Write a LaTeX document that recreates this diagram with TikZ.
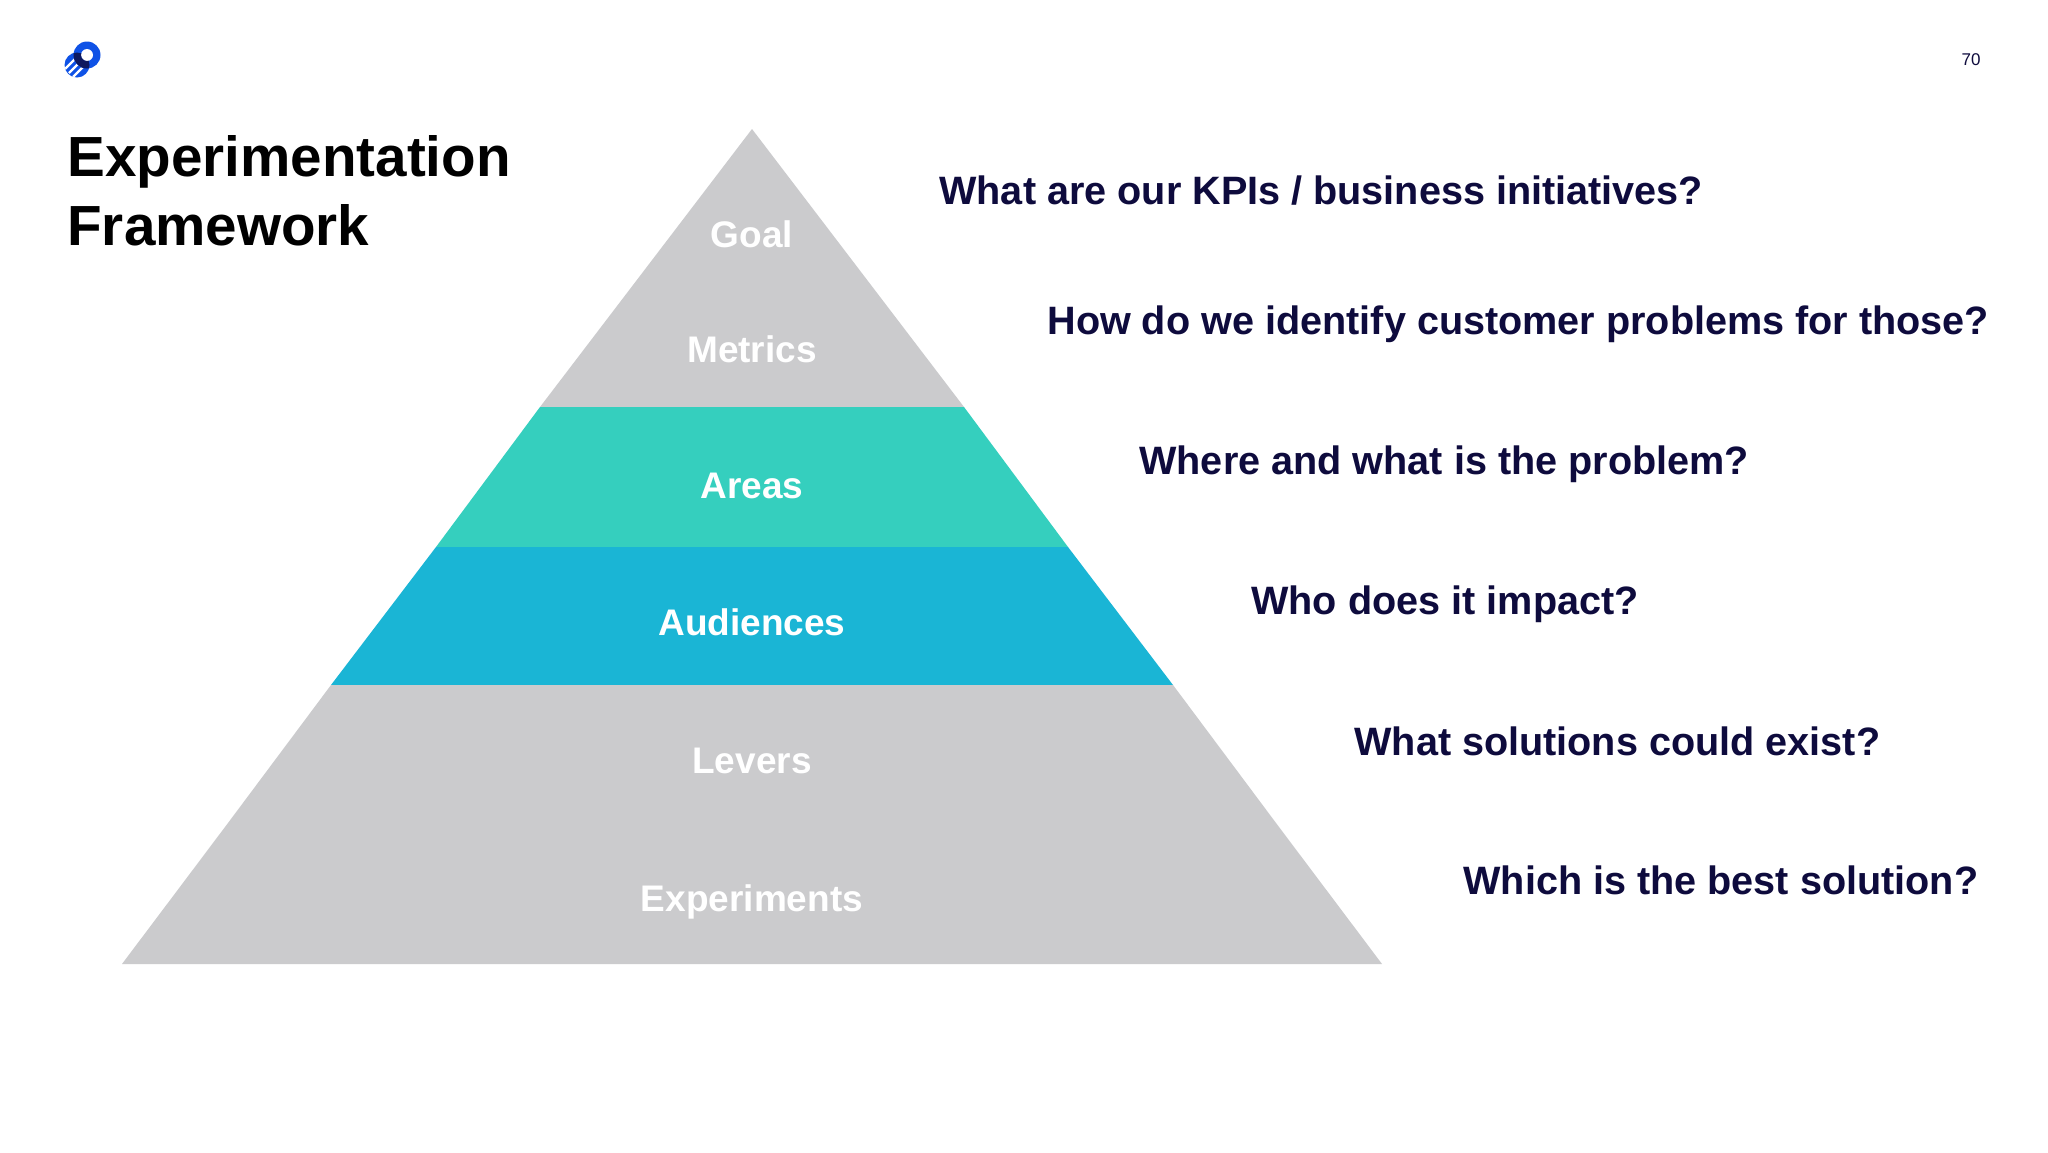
\documentclass[tikz,border=0pt]{standalone}
\usepackage{fontspec}
\setmainfont{Liberation Sans}
\definecolor{layergray}{HTML}{CBCBCD}
\definecolor{layerteal}{HTML}{35CFBE}
\definecolor{layerblue}{HTML}{1AB5D5}
\definecolor{asknavy}{HTML}{0E0B3D}
\definecolor{logoblue}{HTML}{0F52E6}
\tikzset{
  layer text/.style={text=white, font=\fontsize{18.5}{20}\selectfont\bfseries, anchor=center, inner sep=0pt},
  ask text/.style={text=asknavy, font=\fontsize{19.8}{24}\selectfont\bfseries, anchor=west, inner sep=0pt},
  title text/.style={text=black, font=\fontsize{28.3}{34}\selectfont\bfseries, anchor=west, inner sep=0pt},
}
\begin{document}
\begin{tikzpicture}[x=0.5pt, y=-0.5pt]
      \useasboundingbox (0,0) rectangle (2048,1152);
      \fill[white] (0,0) rectangle (2048,1152);
      % logo
      \fill[logoblue] (77,65) circle (12.5);
      \begin{scope}
            \clip (77,65) circle (12.5);
            \foreach \d in {5,9,13} {
                  \draw[white, line width=1.2pt] (60+\d,64+\d) -- (76+\d,48+\d);
            }
      \end{scope}
      \fill[logoblue] (87,55) circle (13.5);
      \fill[white] (87,55) circle (6);
      \begin{scope}
            \clip (77,65) circle (12.5);
            \fill[asknavy!80!logoblue, even odd rule] (87,55) circle (13.5) (87,55) circle (6);
      \end{scope}
      % pyramid
      \coordinate (apex) at (752,129);
      \coordinate (teal_l) at (540,407);
      \coordinate (teal_r) at (964,407);
      \coordinate (blue_l) at (436,547);
      \coordinate (blue_r) at (1068,547);
      \coordinate (low_l) at (331,685);
      \coordinate (low_r) at (1173,685);
      \coordinate (seam_l) at (226.5,825);
      \coordinate (seam_r) at (1277.5,825);
      \coordinate (base_l) at (122,964);
      \coordinate (base_r) at (1382,964);
      \fill[layergray] (apex) -- (teal_r) -- (teal_l) -- cycle;
      \fill[layerteal] (teal_l) -- (teal_r) -- (blue_r) -- (blue_l) -- cycle;
      \fill[layerblue] (blue_l) -- (blue_r) -- (low_r) -- (low_l) -- cycle;
      \fill[layergray] (low_l) -- (low_r) -- (seam_r) -- (seam_l) -- cycle;
      \fill[layergray] (seam_l) -- (seam_r) -- (base_r) -- (base_l) -- cycle;
      % labels
      \node[layer text] (goal) at (752,234) {Goal};
      \node[layer text] (metrics) at (752,349) {Metrics};
      \node[layer text] (areas) at (752,486) {Areas};
      \node[layer text] (audiences) at (752,622) {Audiences};
      \node[layer text] (levers) at (752,761) {Levers};
      \node[layer text] (experiments) at (752,902) {Experiments};
      % questions
      \node[ask text] (ask_goal) at (939,191) {What are our KPIs / business initiatives?};
      \node[ask text] (ask_metrics) at (1047,324) {How do we identify customer problems for those?};
      \node[ask text] (ask_areas) at (1139,464) {Where and what is the problem?};
      \node[ask text] (ask_audiences) at (1251,604) {Who does it impact?};
      \node[ask text] (ask_levers) at (1354,741) {What solutions could exist?};
      \node[ask text] (ask_experiments) at (1463,880) {Which is the best solution?};
      % title
      \node[title text] (title_a) at (67,162) {Experimentation};
      \node[title text] (title_b) at (67,225) {Framework};
      \node[inner sep=0pt, font=\fontsize{8.5}{10}\selectfont, text=asknavy] (page_no) at (1971,60) {70};
\end{tikzpicture}
\end{document}
